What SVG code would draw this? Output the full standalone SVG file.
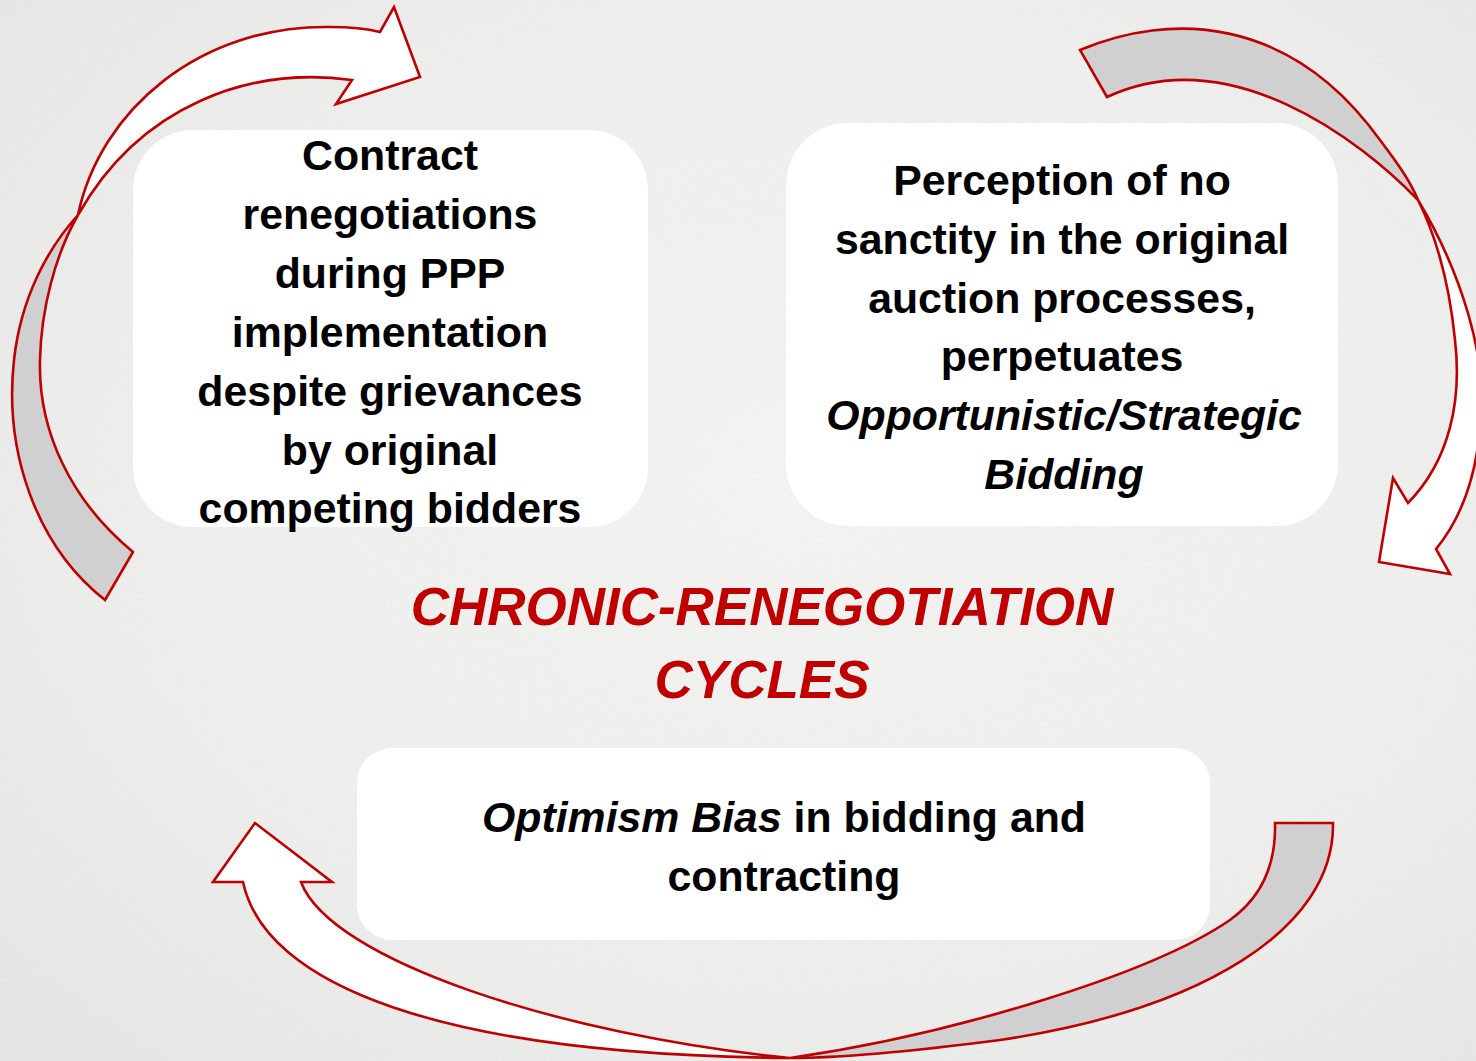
<svg xmlns="http://www.w3.org/2000/svg" width="1476" height="1061" viewBox="0 0 1476 1061">
  <defs>
    <radialGradient id="paper" cx="55%" cy="45%" r="75%">
      <stop offset="0" stop-color="#f4f4f2"/>
      <stop offset="0.6" stop-color="#efefed"/>
      <stop offset="1" stop-color="#e6e6e4"/>
    </radialGradient>
    <filter id="grain" x="0" y="0" width="100%" height="100%">
      <feTurbulence type="fractalNoise" baseFrequency="0.8" numOctaves="2" seed="7"/>
      <feColorMatrix type="matrix" values="0 0 0 0 0.5  0 0 0 0 0.5  0 0 0 0 0.49  0.2 0 0 0 -0.07"/>
    </filter>
    <style>
      .box { fill: #ffffff; }
      .txt { font-family: "Liberation Sans", Arial, sans-serif; font-weight: bold; font-size: 42.8px; fill: #000000; text-anchor: middle; }
      .it { font-style: italic; }
      .title { font-family: "Liberation Sans", Arial, sans-serif; font-weight: bold; font-style: italic; font-size: 53px; fill: #c00000; text-anchor: middle; }
      .band { stroke: #c00000; stroke-width: 2.6; stroke-linejoin: miter; }
      .front { fill: #ffffff; }
      .back { fill: #d0d0d0; }
    </style>
  </defs>

  <!-- paper background -->
  <rect width="1476" height="1061" fill="url(#paper)"/>
  <rect width="1476" height="1061" filter="url(#grain)"/>

  <!-- top-left box -->
  <g id="node-renegotiations">
    <rect class="box" x="133" y="130" width="515" height="397" rx="60"/>
    <text class="txt" x="390" y="170">Contract</text>
    <text class="txt" x="390" y="229">renegotiations</text>
    <text class="txt" x="390" y="288">during PPP</text>
    <text class="txt" x="390" y="347">implementation</text>
    <text class="txt" x="390" y="406">despite grievances</text>
    <text class="txt" x="390" y="465">by original</text>
    <text class="txt" x="390" y="523">competing bidders</text>
  </g>

  <!-- top-right box -->
  <g id="node-perception">
    <rect class="box" x="786" y="123" width="552" height="403" rx="62"/>
    <text class="txt" x="1062" y="195">Perception of no</text>
    <text class="txt" x="1062" y="254">sanctity in the original</text>
    <text class="txt" x="1062" y="313">auction processes,</text>
    <text class="txt" x="1062" y="371">perpetuates</text>
    <text class="txt it" x="1064" y="430">Opportunistic/Strategic</text>
    <text class="txt it" x="1064" y="489">Bidding</text>
  </g>

  <!-- centre title -->
  <g id="node-title">
    <text class="title" x="762" y="625">CHRONIC-RENEGOTIATION</text>
    <text class="title" x="762" y="698">CYCLES</text>
  </g>

  <!-- bottom box -->
  <g id="node-optimism">
    <rect class="box" x="357" y="748" width="853" height="192" rx="35"/>
    <text class="txt" x="784" y="832"><tspan class="it">Optimism Bias</tspan> in bidding and</text>
    <text class="txt" x="784" y="891">contracting</text>
  </g>

  <!-- curved cycle arrows: grey back half, white front half with head -->
  <g id="connectors">
    <g id="arrow-left">
      <path class="band back" d="M105,600 C35,545 4,450 14,360 C21,297 48,248 78,215 C55,255 41,310 40,360 C38,430 70,500 133,552 Z"/>
      <path class="band front" d="M78,215 C100,110 200,25 330,27 Q360,27 380,32 L394,7 L420,77 L336,104 L352,80 C250,66 140,105 78,215 Z"/>
    </g>
    <g id="arrow-right">
      <path class="band back" d="M1080,50 C1170,12 1290,15 1380,140 C1395,160 1410,180 1418,200 C1360,140 1230,40 1107,97 Z"/>
      <path class="band front" d="M1418,200 C1460,270 1490,360 1480,430 C1475,480 1460,520 1436,549 L1450,574 L1379,562 L1393,478 L1408,503 C1450,460 1462,400 1455,340 C1450,290 1438,240 1418,200 Z"/>
    </g>
    <g id="arrow-bottom">
      <path class="band back" d="M1333,823 C1335,930 1200,1010 1000,1040 C900,1053 840,1058 790,1058 C950,1035 1150,975 1230,920 C1265,895 1276,860 1275,823 Z"/>
      <path class="band front" d="M790,1058 C440,1055 265,985 243,882 L213,882 L255,823 L332,882 L301,882 C330,960 560,1035 790,1058 Z"/>
    </g>
  </g>
</svg>
